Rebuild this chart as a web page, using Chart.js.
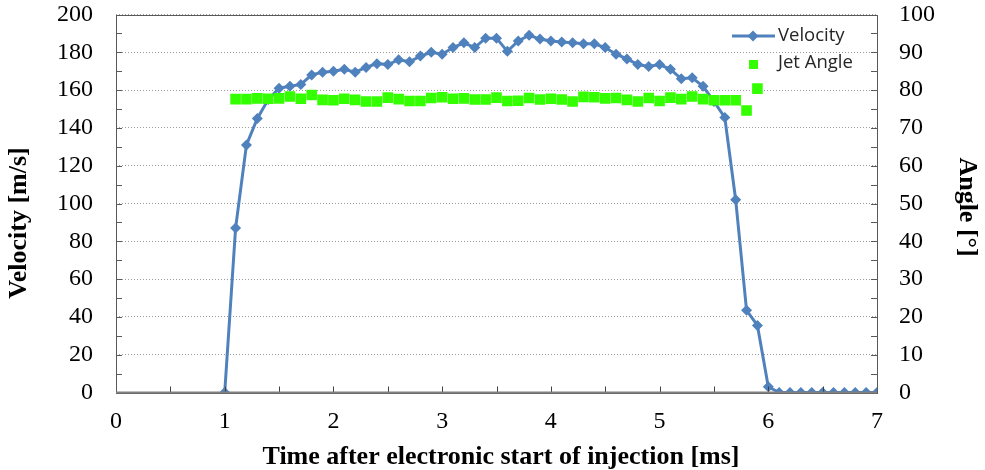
<!DOCTYPE html>
<html>
<head>
<meta charset="utf-8">
<script src="https://cdn.jsdelivr.net/npm/chart.js@4/dist/chart.umd.min.js"></script>
<style>
  html, body { margin: 0; padding: 0; background: #fff; }
  #wrap { width: 985px; height: 470px; }
</style>
</head>
<body>
<div id="wrap"><canvas id="grafico"></canvas></div>
<script>
// tiempos (ms) de la velocidad
const tiempos = [1.0, 1.1, 1.2, 1.3, 1.4, 1.5, 1.6, 1.7, 1.8, 1.9,
  2.0, 2.1, 2.2, 2.3, 2.4, 2.5, 2.6, 2.7, 2.8, 2.9,
  3.0, 3.1, 3.2, 3.3, 3.4, 3.5, 3.6, 3.7, 3.8, 3.9,
  4.0, 4.1, 4.2, 4.3, 4.4, 4.5, 4.6, 4.7, 4.8, 4.9,
  5.0, 5.1, 5.2, 5.3, 5.4, 5.5, 5.6, 5.7, 5.8, 5.9,
  6.0, 6.1, 6.2, 6.3, 6.4, 6.5, 6.6, 6.7, 6.8, 6.9, 7.0];

// velocidad [m/s]
const velocidad = [0, 87, 131, 145, 155, 161, 162, 163, 168, 169.5,
  170, 171, 169.5, 172, 174, 173.5, 176, 175, 178, 180,
  179, 182.5, 185, 182.5, 187.5, 187.5, 180.5, 186, 189, 187,
  186, 185.5, 185, 184.5, 184.5, 182.5, 179, 176.5, 173.5, 172.5,
  173.5, 171, 166, 166.5, 162, 154, 145.5, 102, 43.5, 35.5,
  3, 0, 0, 0, 0, 0, 0, 0, 0, 0, 0];

// tiempos del angulo del chorro
const tiemposAngulo = [1.1, 1.2, 1.3, 1.4, 1.5, 1.6, 1.7, 1.8, 1.9,
  2.0, 2.1, 2.2, 2.3, 2.4, 2.5, 2.6, 2.7, 2.8, 2.9,
  3.0, 3.1, 3.2, 3.3, 3.4, 3.5, 3.6, 3.7, 3.8, 3.9,
  4.0, 4.1, 4.2, 4.3, 4.4, 4.5, 4.6, 4.7, 4.8, 4.9,
  5.0, 5.1, 5.2, 5.3, 5.4, 5.5, 5.6, 5.7, 5.8, 5.9];

// angulo [grados]
const angulo = [77.6, 77.6, 77.8, 77.7, 77.8, 78.3, 77.7, 78.7, 77.4,
  77.3, 77.7, 77.4, 77.0, 77.0, 78.0, 77.6, 77.1, 77.1, 77.9,
  78.1, 77.7, 77.8, 77.5, 77.5, 78.0, 77.1, 77.2, 77.9, 77.5,
  77.7, 77.5, 77.0, 78.2, 78.1, 77.8, 77.9, 77.4, 77.0, 77.9,
  77.1, 78.0, 77.6, 78.3, 77.6, 77.3, 77.3, 77.3, 74.6, 80.4];

const AZUL = "#4f81bd";
const VERDE = "#33ff00";
const SERIF = "'Liberation Serif', 'Times New Roman', serif";

// rayitas hacia adentro en los tres ejes + borde del area
const marcasPlugin = {
  id: "marcas",
  afterDraw(chart) {
    const { ctx, chartArea: a, scales } = chart;
    ctx.save();
    ctx.strokeStyle = "#595959";
    ctx.lineWidth = 1;
    ctx.beginPath();
    for (let v = 0; v <= 200; v += 10) {
      const y = Math.round(scales.y.getPixelForValue(v)) + 0.5;
      ctx.moveTo(a.left, y);
      ctx.lineTo(a.left + 6, y);
    }
    for (let v = 0; v <= 100; v += 5) {
      const y = Math.round(scales.y2.getPixelForValue(v)) + 0.5;
      ctx.moveTo(a.right, y);
      ctx.lineTo(a.right - 6, y);
    }
    ctx.stroke();
    ctx.strokeStyle = "#404040";
    ctx.beginPath();
    for (let v = 0.5; v < 7; v += 0.5) {
      const x = Math.round(scales.x.getPixelForValue(v)) + 0.5;
      ctx.moveTo(x, a.bottom);
      ctx.lineTo(x, a.bottom - 6);
    }
    ctx.stroke();
    // borde
    ctx.strokeStyle = "#595959";
    ctx.strokeRect(Math.round(a.left) + 0.5, Math.round(a.top) + 0.5,
      Math.round(a.right - a.left), Math.round(a.bottom - a.top));
    ctx.strokeStyle = "#808080";
    ctx.lineWidth = 2;
    ctx.beginPath();
    ctx.moveTo(a.left, a.bottom);
    ctx.lineTo(a.right, a.bottom);
    ctx.stroke();
    ctx.restore();
  },
};

// titulos de los ejes (los pongo a mano para ubicarlos igual que la imagen)
const titulosPlugin = {
  id: "titulos",
  afterDraw(chart) {
    const { ctx } = chart;
    ctx.save();
    ctx.fillStyle = "#000";
    ctx.font = "bold 26px " + SERIF;
    ctx.textAlign = "center";
    ctx.textBaseline = "middle";
    ctx.fillText("Time after electronic start of injection [ms]", 501, 457);
    ctx.save();
    ctx.translate(19, 223);
    ctx.rotate(-Math.PI / 2);
    ctx.fillText("Velocity [m/s]", 0, 0);
    ctx.restore();
    ctx.translate(967, 207);
    ctx.rotate(Math.PI / 2);
    ctx.fillText("Angle [°]", 0, 0);
    ctx.restore();
  },
};

// leyenda dibujada a mano adentro del grafico
const leyendaPlugin = {
  id: "leyenda",
  afterDatasetsDraw(chart) {
    const { ctx } = chart;
    ctx.save();
    ctx.strokeStyle = AZUL;
    ctx.lineWidth = 3;
    ctx.beginPath();
    ctx.moveTo(732, 36);
    ctx.lineTo(775, 36);
    ctx.stroke();
    ctx.fillStyle = AZUL;
    ctx.beginPath();
    ctx.moveTo(753, 30.5);
    ctx.lineTo(758.5, 36);
    ctx.lineTo(753, 41.5);
    ctx.lineTo(747.5, 36);
    ctx.closePath();
    ctx.fill();
    ctx.fillStyle = VERDE;
    ctx.fillRect(749, 60, 9, 9);
    ctx.fillStyle = "#262626";
    ctx.font = "18.5px 'Open Sans', sans-serif";
    ctx.textBaseline = "middle";
    ctx.fillText("Velocity", 778, 36);
    ctx.fillText("Jet Angle", 778, 63);
    ctx.restore();
  },
};

const fuenteTicks = { family: SERIF, size: 24 };
const sinColor = "rgba(0,0,0,0)";

new Chart(document.getElementById("grafico"), {
  type: "scatter",
  data: {
    datasets: [
      {
        label: "Jet Angle",
        data: tiemposAngulo.map((t, i) => ({ x: t, y: angulo[i] })),
        yAxisID: "y2",
        showLine: false,
        pointStyle: "rect",
        pointRadius: 7.5,
        backgroundColor: VERDE,
        borderColor: VERDE,
        borderWidth: 0,
        order: 0,
      },
      {
        label: "Velocity",
        data: tiempos.map((t, i) => ({ x: t, y: velocidad[i] })),
        yAxisID: "y",
        showLine: true,
        borderColor: AZUL,
        backgroundColor: AZUL,
        borderWidth: 3,
        pointStyle: "rectRot",
        pointRadius: 5.5,
        pointBorderWidth: 0,
        tension: 0,
        order: 1,
      },
    ],
  },
  plugins: [marcasPlugin, titulosPlugin, leyendaPlugin],
  options: {
    responsive: true,
    maintainAspectRatio: false,
    animation: false,
    layout: { padding: { top: 14.5, left: 0, right: 0, bottom: 0 } },
    plugins: { legend: { display: false }, tooltip: { enabled: false } },
    scales: {
      x: {
        type: "linear",
        min: 0,
        max: 7,
        ticks: { stepSize: 1, color: "#000", font: fuenteTicks, padding: 15 },
        grid: { display: false, drawTicks: false },
        border: { display: false },
        afterFit(scale) { scale.height = 77.5; },
      },
      y: {
        position: "left",
        min: 0,
        max: 200,
        ticks: { stepSize: 20, color: "#000", font: fuenteTicks, padding: 0 },
        grid: {
          color: "#9a9a9a",
          lineWidth: 1,
          drawTicks: true,
          tickLength: 23,
          tickColor: sinColor,
        },
        border: { display: false, dash: [1, 2] },
        afterFit(scale) { scale.width = 116; },
      },
      y2: {
        position: "right",
        min: 0,
        max: 100,
        ticks: { stepSize: 10, color: "#000", font: fuenteTicks, padding: 0 },
        grid: {
          display: true,
          drawOnChartArea: false,
          drawTicks: true,
          tickLength: 22,
          tickColor: sinColor,
        },
        border: { display: false },
        afterFit(scale) { scale.width = 108; },
      },
    },
  },
});
</script>
</body>
</html>
